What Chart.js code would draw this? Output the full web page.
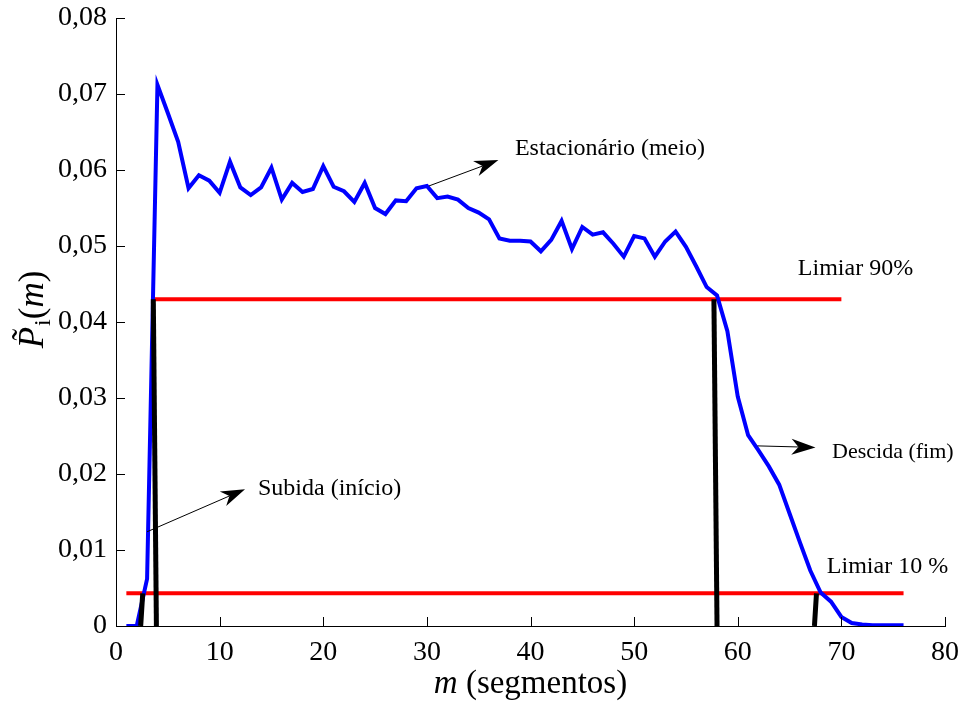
<!DOCTYPE html>
<html>
<head>
<meta charset="utf-8">
<script src="https://cdn.jsdelivr.net/npm/chart.js@4/dist/chart.umd.min.js"></script>
<style>
  body { margin: 0; background: #fff; }
  canvas { display: block; }
</style>
</head>
<body>
<canvas id="chart" width="965" height="702"></canvas>
<script>
// segment index m and normalised power P_i(m)
const segments = [
  1, 2, 3, 4, 5, 6, 7, 8, 9, 10, 11, 12, 13, 14, 15, 16, 17, 18, 19, 20,
  21, 22, 23, 24, 25, 26, 27, 28, 29, 30, 31, 32, 33, 34, 35, 36, 37, 38, 39, 40,
  41, 42, 43, 44, 45, 46, 47, 48, 49, 50, 51, 52, 53, 54, 55, 56, 57, 58, 59, 60,
  61, 62, 63, 64, 65, 66, 67, 68, 69, 70, 71, 72, 73, 74, 75, 76
];
const power = [
  0, 0, 0.0062, 0.0712, 0.0675, 0.0637, 0.0576, 0.0593, 0.0586, 0.0570,
  0.0611, 0.0577, 0.0567, 0.0577, 0.0603, 0.0561, 0.0583, 0.0571, 0.0575, 0.0605,
  0.0578, 0.0572, 0.0558, 0.0583, 0.0550, 0.0542, 0.0560, 0.0559, 0.0576, 0.0579,
  0.0563, 0.0565, 0.0561, 0.0550, 0.0544, 0.0535, 0.0510, 0.0507, 0.0507, 0.0506,
  0.0493, 0.0508, 0.0533, 0.0496, 0.0525, 0.0515, 0.0518, 0.0503, 0.0486, 0.0513,
  0.0510, 0.0486, 0.0506, 0.0519, 0.0499, 0.0473, 0.0446, 0.0435, 0.0388, 0.0302,
  0.0251, 0.0231, 0.0210, 0.0186, 0.0148, 0.0110, 0.0073, 0.0044, 0.0032, 0.0012,
  0.0004, 0.0002, 0.0001, 0.0001, 0.0001, 0.0001
];

// thresholds (90% and 10%) and the m range each one is drawn over
const thresholdHigh = 0.043;
const thresholdHighRange = [3.5, 70];
const thresholdLow = 0.0043;
const thresholdLowRange = [1, 76];

// crossing markers: m at the threshold level, m at the axis
const crossLevel = [0.0043, 0.043, 0.043, 0.0043];
const crossTopM = [2.58, 3.6, 57.7, 67.6];
const crossBottomM = [2.38, 3.9, 58.0, 67.4];

const xTicks = [0, 10, 20, 30, 40, 50, 60, 70, 80];
const yTicks = [0, 0.01, 0.02, 0.03, 0.04, 0.05, 0.06, 0.07, 0.08];

// text labels and arrows, in data units
const notes = [
  { text: 'Estacionário (meio)', at: [38.5, 0.0628], from: [30.2, 0.0579], to: [36.9, 0.0613] },
  { text: 'Limiar 90%', at: [65.8, 0.0470] },
  { text: 'Descida (fim)', at: [69.1, 0.0229], from: [61.9, 0.0237], to: [67.5, 0.0235], size: 22 },
  { text: 'Subida (início)', at: [13.7, 0.0180], from: [3.0, 0.0124], to: [12.45, 0.0180] },
  { text: 'Limiar 10 %', at: [68.6, 0.0078] }
];

const SERIF = '"Liberation Serif", "Times New Roman", serif';

const lineSet = (points, color, width, order) => ({
  data: points,
  borderColor: color,
  borderWidth: width,
  pointRadius: 0,
  tension: 0,
  fill: false,
  borderCapStyle: 'butt',
  order
});

const datasets = [];
crossLevel.forEach((lvl, i) => {
  datasets.push(lineSet([{ x: crossTopM[i], y: lvl }, { x: crossBottomM[i], y: 0 }], '#000000', 5, 0));
});
datasets.push(lineSet(segments.map((m, i) => ({ x: m, y: power[i] })), '#0000ff', 4, 1));
datasets.push(lineSet(thresholdHighRange.map(m => ({ x: m, y: thresholdHigh })), '#ff0000', 4, 2));
datasets.push(lineSet(thresholdLowRange.map(m => ({ x: m, y: thresholdLow })), '#ff0000', 4, 2));

function drawArrow(ctx, x1, y1, x2, y2) {
  const ang = Math.atan2(y2 - y1, x2 - x1);
  const ux = Math.cos(ang), uy = Math.sin(ang);
  const nx = -uy, ny = ux;
  const len = 24, half = 8, notch = 17;
  ctx.strokeStyle = '#000';
  ctx.lineWidth = 1;
  ctx.beginPath();
  ctx.moveTo(x1, y1);
  ctx.lineTo(x2 - notch * ux, y2 - notch * uy);
  ctx.stroke();
  ctx.fillStyle = '#000';
  ctx.beginPath();
  ctx.moveTo(x2, y2);
  ctx.lineTo(x2 - len * ux + half * nx, y2 - len * uy + half * ny);
  ctx.lineTo(x2 - notch * ux, y2 - notch * uy);
  ctx.lineTo(x2 - len * ux - half * nx, y2 - len * uy - half * ny);
  ctx.closePath();
  ctx.fill();
}

const decorations = {
  id: 'decorations',
  afterDatasetsDraw(chart) {
    const ctx = chart.ctx;
    const xs = chart.scales.x, ys = chart.scales.y;
    const area = chart.chartArea;
    ctx.save();

    // inward tick marks
    ctx.strokeStyle = '#000';
    ctx.lineWidth = 1;
    ctx.beginPath();
    xTicks.forEach(v => {
      const px = Math.round(xs.getPixelForValue(v)) + 0.5;
      ctx.moveTo(px, area.bottom);
      ctx.lineTo(px, area.bottom - 9);
    });
    yTicks.forEach(v => {
      const py = Math.round(ys.getPixelForValue(v)) + 0.5;
      ctx.moveTo(area.left, py);
      ctx.lineTo(area.left + 9, py);
    });
    ctx.stroke();

    // notes and arrows
    ctx.fillStyle = '#000';
    ctx.textAlign = 'left';
    ctx.textBaseline = 'middle';
    notes.forEach(n => {
      ctx.font = (n.size || 24) + 'px ' + SERIF;
      ctx.fillText(n.text, xs.getPixelForValue(n.at[0]), ys.getPixelForValue(n.at[1]));
      if (n.from) {
        drawArrow(ctx,
          xs.getPixelForValue(n.from[0]), ys.getPixelForValue(n.from[1]),
          xs.getPixelForValue(n.to[0]), ys.getPixelForValue(n.to[1]));
      }
    });

    // x axis title: m (segmentos)
    ctx.textBaseline = 'alphabetic';
    const xt1 = 'm', xt2 = ' (segmentos)';
    ctx.font = 'italic 33px ' + SERIF;
    const w1 = ctx.measureText(xt1).width;
    ctx.font = '33px ' + SERIF;
    const w2 = ctx.measureText(xt2).width;
    let sx = (area.left + area.right) / 2 - (w1 + w2) / 2;
    ctx.font = 'italic 33px ' + SERIF;
    ctx.fillText(xt1, sx, 693);
    ctx.font = '33px ' + SERIF;
    ctx.fillText(xt2, sx + w1, 693);

    // y axis title: P~_i(m), rotated
    ctx.translate(43, 310);
    ctx.rotate(-Math.PI / 2);
    const parts = [
      { t: 'P', f: 'italic 35px ', dy: 0 },
      { t: 'i', f: '24px ', dy: 7 },
      { t: '(', f: '35px ', dy: 0 },
      { t: 'm', f: 'italic 35px ', dy: 0 },
      { t: ')', f: '35px ', dy: 0 }
    ];
    let total = 0;
    parts.forEach(p => { ctx.font = p.f + SERIF; p.w = ctx.measureText(p.t).width; total += p.w; });
    let cx = -total / 2;
    parts.forEach((p, i) => {
      ctx.font = p.f + SERIF;
      ctx.fillText(p.t, cx, p.dy);
      if (i === 0) {
        ctx.font = '35px ' + SERIF;
        const tw = ctx.measureText('\u02DC').width;
        ctx.fillText('\u02DC', cx + p.w / 2 - tw / 2 + 3, -6);
      }
      cx += p.w + (i === 0 ? 1 : 0);
    });
    ctx.restore();
  }
};

new Chart(document.getElementById('chart'), {
  type: 'line',
  data: { datasets },
  options: {
    responsive: false,
    animation: false,
    devicePixelRatio: 1,
    layout: { padding: { left: 0, right: 20, top: 18, bottom: 0 } },
    plugins: { legend: { display: false }, tooltip: { enabled: false } },
    scales: {
      x: {
        type: 'linear',
        min: 0,
        max: 80,
        afterBuildTicks: s => { s.ticks = xTicks.map(v => ({ value: v })); },
        afterFit: s => { s.height = 76; s.paddingLeft = 0; s.paddingRight = 0; },
        grid: { display: false, drawTicks: false },
        border: { display: true, color: '#000', width: 1 },
        ticks: {
          color: '#000',
          padding: 10,
          maxRotation: 0,
          font: { family: SERIF, size: 28 }
        }
      },
      y: {
        type: 'linear',
        min: 0,
        max: 0.08,
        afterBuildTicks: s => { s.ticks = yTicks.map(v => ({ value: v })); },
        afterFit: s => { s.width = 116; s.paddingTop = 0; s.paddingBottom = 0; },
        grid: { display: false, drawTicks: false },
        border: { display: true, color: '#000', width: 1 },
        ticks: {
          color: '#000',
          padding: 9,
          font: { family: SERIF, size: 28 },
          callback: v => v === 0 ? '0' : v.toFixed(2).replace('.', ',')
        }
      }
    }
  },
  plugins: [decorations]
});
</script>
</body>
</html>
